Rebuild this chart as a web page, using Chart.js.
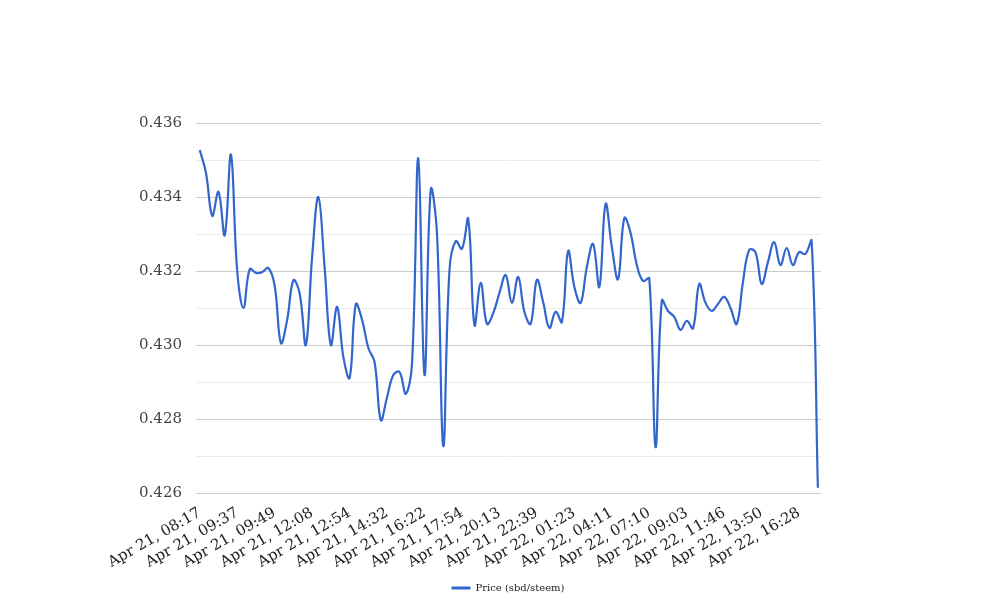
<!DOCTYPE html>
<html>
<head>
<meta charset="utf-8">
<script src="https://cdn.jsdelivr.net/npm/chart.js@4.4.1/dist/chart.umd.min.js"></script>
<style>
  html, body { margin: 0; padding: 0; background: #fff; }
</style>
</head>
<body>
<canvas id="priceChart" width="1008" height="616"></canvas>
<script>
// x-axis labels, one every `labelStep` points
const tickLabels = [
    'Apr 21, 08:17', 'Apr 21, 09:37', 'Apr 21, 09:49', 'Apr 21, 12:08',
    'Apr 21, 12:54', 'Apr 21, 14:32', 'Apr 21, 16:22', 'Apr 21, 17:54',
    'Apr 21, 20:13', 'Apr 21, 22:39', 'Apr 22, 01:23', 'Apr 22, 04:11',
    'Apr 22, 07:10', 'Apr 22, 09:03', 'Apr 22, 11:46', 'Apr 22, 13:50',
    'Apr 22, 16:28',
];
const labelStep = 6;

const seriesName = 'Price (sbd/steem)';

// price per trade point
const prices = [
    0.43527, 0.43465, 0.43349, 0.43414, 0.43297, 0.43514, 0.43200, 0.43100, 0.43205, 0.43195,
    0.43197, 0.43208, 0.43160, 0.43005, 0.43068, 0.43175, 0.43140, 0.43000, 0.43238, 0.43400,
    0.43210, 0.43000, 0.43103, 0.42968, 0.42911, 0.43110, 0.43068, 0.42992, 0.42954, 0.42797,
    0.42859, 0.42919, 0.42927, 0.42868, 0.42950, 0.43505, 0.42919, 0.43420, 0.43300, 0.42727,
    0.43203, 0.43281, 0.43260, 0.43341, 0.43054, 0.43168, 0.43057, 0.43086, 0.43141, 0.43189,
    0.43114, 0.43184, 0.43089, 0.43057, 0.43176, 0.43116, 0.43046, 0.43090, 0.43062, 0.43254,
    0.43157, 0.43114, 0.43211, 0.43273, 0.43157, 0.43381, 0.43265, 0.43178, 0.43343, 0.43303,
    0.43216, 0.43173, 0.43180, 0.42724, 0.43120, 0.43092, 0.43076, 0.43041, 0.43065, 0.43045,
    0.43165, 0.43114, 0.43092, 0.43111, 0.43130, 0.43100, 0.43057, 0.43170, 0.43257, 0.43251,
    0.43165, 0.43224, 0.43278, 0.43216, 0.43262, 0.43216, 0.43251, 0.43246, 0.43281, 0.42614,
];

const yMin = 0.426;
const yMax = 0.436;

const font = 'DejaVu Serif';
const blue = '#3366cc';

const points = prices.map((p, i) => ({ x: i, y: p }));

const isMajor = (v) => Math.round(v * 1000) % 2 === 0;

new Chart(document.getElementById('priceChart'), {
    type: 'line',
    data: {
        datasets: [{
            label: seriesName,
            data: points,
            borderColor: blue,
            backgroundColor: blue,
            borderWidth: 2.2,
            pointRadius: 0,
            tension: 0.4,
            fill: false,
        }]
    },
    options: {
        responsive: false,
        animation: false,
        devicePixelRatio: 1,
        layout: { padding: { left: 8, right: 0, top: 123, bottom: 13 } },
        plugins: {
            tooltip: { enabled: false },
            legend: {
                position: 'bottom',
                labels: {
                    font: { family: font, size: 10 },
                    color: '#222',
                    boxWidth: 19,
                    boxHeight: 3,
                    padding: 10,
                    generateLabels: (chart) => Chart.defaults.plugins.legend.labels
                        .generateLabels(chart).map(item => ({ ...item, lineWidth: 0, fillStyle: blue })),
                }
            }
        },
        scales: {
            x: {
                type: 'linear',
                min: -0.6,
                max: 99.5,
                grid: { display: false, drawTicks: false },
                border: { display: false },
                ticks: {
                    autoSkip: false,
                    minRotation: 30,
                    maxRotation: 30,
                    padding: 11,
                    color: '#222',
                    font: { family: font, size: 15 },
                    callback: (v) => tickLabels[Math.round(v / labelStep)],
                },
                afterBuildTicks: (axis) => {
                    axis.ticks = tickLabels.map((_, k) => ({ value: k * labelStep }));
                },
                afterFit: (s) => { s.height = 80; },
            },
            y: {
                min: yMin,
                max: yMax,
                border: { display: false },
                grid: {
                    drawTicks: false,
                    color: (ctx) => isMajor(ctx.tick.value) ? '#cccccc' : '#ebebeb',
                },
                ticks: {
                    stepSize: 0.001,
                    padding: 14,
                    color: '#444',
                    font: { family: font, size: 15 },
                    callback: (v) => isMajor(v) ? v.toFixed(3) : '',
                },
                afterFit: (s) => { s.width = 188; },
            },
            yRight: {
                position: 'right',
                grid: { display: false, drawTicks: false },
                border: { display: false },
                ticks: { display: false },
                afterFit: (s) => { s.width = 187; },
            }
        }
    }
});
</script>
</body>
</html>
